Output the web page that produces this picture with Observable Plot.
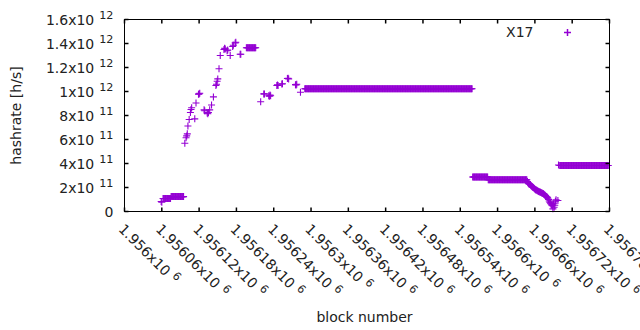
<!DOCTYPE html>
<html><head><meta charset="utf-8">
<script src="https://cdn.jsdelivr.net/npm/d3@7"></script>
<script src="https://cdn.jsdelivr.net/npm/@observablehq/plot@0.6"></script>
<style>body{margin:0;background:#fff;} svg{display:block;}</style>
</head><body><div id="chart"></div>
<script>
const seriesName = "X17";
const seriesColor = "#9400d3";

const xTickValues = [1956000,1956060,1956120,1956180,1956240,1956300,1956360,1956420,1956480,1956540,1956600,1956660,1956720,1956780];
const xTickBase = ["1.956x10","1.95606x10","1.95612x10","1.95618x10","1.95624x10","1.9563x10","1.95636x10","1.95642x10","1.95648x10","1.95654x10","1.9566x10","1.95666x10","1.95672x10","1.95678x10"];
const xTickExp = ["6","6","6","6","6","6","6","6","6","6","6","6","6","6"];

const yTickValues = [0,2e11,4e11,6e11,8e11,1e12,1.2e12,1.4e12,1.6e12];
const yTickBase = ["0","2x10","4x10","6x10","8x10","1x10","1.2x10","1.4x10","1.6x10"];
const yTickExp = ["","11","11","11","11","12","12","12","12"];

// individual blocks
const pointBlock = [1956059,1956060,
 1956097,1956099,1956100,1956101,1956102,1956104,1956106,1956107,1956108,1956113,1956115,1956119,1956120,1956121,
 1956128,1956129,1956133,1956134,1956135,1956137,1956140,1956143,1956147,1956148,1956149,1956150,1956152,1956154,
 1956160,1956161,1956162,1956165,1956166,1956170,1956174,1956175,1956178,1956179,1956186,1956187,
 1956219,1956224,1956225,1956232,1956233,1956234,1956235,1956245,1956246,1956247,1956253,1956254,1956262,1956263,1956264,
 1956275,1956276,1956277,1956283,
 1956648,1956649,1956650,1956651,1956652,1956653,1956654,1956655,1956656,1956657,1956658,1956659,1956660,1956661,1956662,
 1956663,1956664,1956665,1956666,1956667,1956668,1956669,1956670,1956671,1956672,1956673,1956674,1956675,1956676,1956677,
 1956678,1956679,1956680,1956681,1956682,1956683,1956684,1956685,1956686,1956687,1956688,1956689,1956690,1956691,1956692,
 1956693,1956694,1956697,1956698];
const pointHashrate = [8.3e10,7.7e10,
 5.69e11,6.15e11,6.30e11,6.47e11,7.12e11,7.67e11,8.25e11,8.50e11,8.65e11,7.72e11,9.04e11,9.78e11,9.80e11,9.85e11,
 8.47e11,8.40e11,8.20e11,8.15e11,8.25e11,8.47e11,8.87e11,9.55e11,1.05e12,1.06e12,1.085e12,1.105e12,1.19e12,1.30e12,
 1.35e12,1.36e12,1.355e12,1.34e12,1.345e12,1.30e12,1.375e12,1.385e12,1.405e12,1.41e12,1.31e12,1.31e12,
 9.15e11,9.80e11,9.80e11,9.65e11,9.60e11,9.70e11,9.65e11,1.05e12,1.055e12,1.05e12,1.062e12,1.065e12,1.108e12,1.11e12,1.105e12,
 1.057e12,1.055e12,1.06e12,9.94e11,
 2.50e11,2.40e11,2.32e11,2.30e11,2.25e11,2.20e11,2.15e11,2.10e11,2.04e11,2.02e11,1.98e11,1.92e11,1.86e11,1.82e11,1.80e11,
 1.78e11,1.72e11,1.70e11,1.66e11,1.65e11,1.63e11,1.61e11,1.58e11,1.55e11,1.52e11,1.49e11,1.47e11,1.42e11,1.38e11,1.32e11,
 1.27e11,1.22e11,1.18e11,1.10e11,1.00e11,8.8e10,7.7e10,7.0e10,6.2e10,5.5e10,4.8e10,2.2e10,6.4e10,3.5e10,5.2e10,
 8.5e10,9.7e10,9.2e10,3.87e11];

// runs of consecutive blocks with the same hashrate
const runStart    = [1956062,1956075,1956196,1956290,1956560,1956585,1956700];
const runEnd      = [1956074,1956095,1956211,1956559,1956584,1956647,1956778];
const runHashrate = [1.08e11,1.24e11,1.364e12,1.0225e12,2.87e11,2.64e11,3.83e11];

const data = [];
pointBlock.forEach((b, i) => data.push({block: b, hashrate: pointHashrate[i]}));
runStart.forEach((s, i) => { for (let b = s; b <= runEnd[i]; b++) data.push({block: b, hashrate: runHashrate[i]}); });

const plus = {draw(ctx, size) { const r = Math.sqrt(size / Math.PI); ctx.moveTo(-r, 0); ctx.lineTo(r, 0); ctx.moveTo(0, -r); ctx.lineTo(0, r); }};
const tick = (dx, dy) => ({draw(ctx) { ctx.moveTo(0, 0); ctx.lineTo(dx, dy); }});
const T = 4;

const chart = Plot.plot({
  width: 640, height: 330,
  marginTop: 19, marginRight: 31, marginBottom: 119, marginLeft: 124,
  style: {fontFamily: "DejaVu Sans", fontSize: "14px", background: "white", color: "black", overflow: "visible"},
  x: {domain: [xTickValues[0], xTickValues[xTickValues.length - 1]], axis: null},
  y: {domain: [yTickValues[0], yTickValues[yTickValues.length - 1]], axis: null},
  marks: [
    Plot.dot(data, {x: "block", y: "hashrate", symbol: plus, r: 3.5, stroke: seriesColor, fill: "none", strokeWidth: 1.1}),
    Plot.dot(yTickValues, {y: d => d, frameAnchor: "left", symbol: tick(T, 0), stroke: "black", fill: "none"}),
    Plot.dot(yTickValues, {y: d => d, frameAnchor: "right", symbol: tick(-T, 0), stroke: "black", fill: "none"}),
    Plot.dot(xTickValues, {x: d => d, frameAnchor: "bottom", symbol: tick(0, -T), stroke: "black", fill: "none"}),
    Plot.dot(xTickValues, {x: d => d, frameAnchor: "top", symbol: tick(0, T), stroke: "black", fill: "none"}),
    Plot.frame({stroke: "black", strokeWidth: 1}),
    Plot.text(yTickValues, {y: d => d, frameAnchor: "left", text: (d, i) => yTickBase[i], textAnchor: "end", lineAnchor: "middle", dx: -11, dy: 0.6, fontSize: 14, fill: "#222"}),
    Plot.text(xTickValues, {x: d => d, frameAnchor: "bottom", text: (d, i) => xTickBase[i], rotate: 45, textAnchor: "start", lineAnchor: "bottom", dx: -6.8, dy: 18.5, fontSize: 14, fill: "#222"}),
    Plot.text(["hashrate [h/s]"], {text: d => d, frameAnchor: "left", rotate: -90, dx: -108, textAnchor: "middle", lineAnchor: "middle", fontSize: 14, fill: "#222"}),
    Plot.text(["block number"], {text: d => d, frameAnchor: "bottom", dx: -2.5, dy: 110.5, lineAnchor: "bottom", textAnchor: "middle", fontSize: 14, fill: "#222"}),
    Plot.text([seriesName], {text: d => d, frameAnchor: "top-right", textAnchor: "end", lineAnchor: "middle", dx: -76, dy: 12.7, fontSize: 14, fill: "#222"}),
    Plot.dot([seriesName], {frameAnchor: "top-right", dx: -42, dy: 13, symbol: plus, r: 3.5, stroke: seriesColor, fill: "none"})
  ]
});

// superscript exponents on tick labels (gnuplot style "x10^{n}")
const expByBase = new Map();
yTickBase.forEach((b, i) => { if (yTickExp[i]) expByBase.set(b, yTickExp[i]); });
xTickBase.forEach((b, i) => { if (xTickExp[i]) expByBase.set(b, xTickExp[i]); });
chart.querySelectorAll("text").forEach(t => {
  if (t.children.length) return;
  const s = t.textContent;
  if (expByBase.has(s)) {
    const ts = document.createElementNS("http://www.w3.org/2000/svg", "tspan");
    ts.setAttribute("dx", "5");
    ts.setAttribute("dy", "-5.3");
    ts.setAttribute("font-size", "11.2");
    ts.textContent = expByBase.get(s);
    t.appendChild(ts);
  }
});
document.getElementById("chart").appendChild(chart);
</script>
</body></html>
